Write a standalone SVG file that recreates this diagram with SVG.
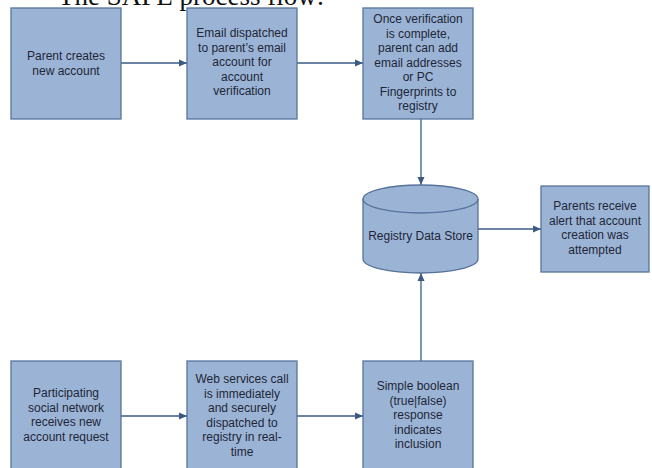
<svg xmlns="http://www.w3.org/2000/svg" width="652" height="468" viewBox="0 0 652 468">
<defs>
<marker id="arr" viewBox="0 0 8 8" refX="8" refY="4" markerWidth="8" markerHeight="8" markerUnits="userSpaceOnUse" orient="auto">
<path d="M0,0.5 L8,4 L0,7.5 Z" fill="#3d5a85"/>
</marker>
<style>
.box{fill:#9bb4d6;stroke:#56739c;stroke-width:1.3}
.t{font-family:"Liberation Sans",Arial,sans-serif;font-size:12px;fill:#1e2636;text-anchor:middle}
.c{stroke:#3d5a85;stroke-width:1.3;fill:none;marker-end:url(#arr)}
.title{font-family:"Liberation Serif","Times New Roman",serif;font-size:27px;fill:#111}
</style>
</defs>
<rect width="652" height="468" fill="#fff"/>
<text class="title" x="58" y="5">The SAFE process flow:</text>

<g id="connectors">
<line class="c" x1="121" y1="63" x2="187" y2="63"/>
<line class="c" x1="297" y1="63" x2="363" y2="63"/>
<line class="c" x1="421" y1="119" x2="421" y2="185"/>
<line class="c" x1="478" y1="229" x2="541" y2="229"/>
<line class="c" x1="121" y1="416" x2="187" y2="416"/>
<line class="c" x1="297" y1="416" x2="363" y2="416"/>
<line class="c" x1="421" y1="361" x2="421" y2="273"/>
</g>

<g id="n1">
<rect class="box" x="11" y="8" width="110" height="111"/>
<text class="t" x="66" y="60">Parent creates</text>
<text class="t" x="66" y="74.5">new account</text>
</g>

<g id="n2">
<rect class="box" x="187" y="8" width="110" height="111"/>
<text class="t" x="242" y="37">Email dispatched</text>
<text class="t" x="242" y="51.5">to parent’s email</text>
<text class="t" x="242" y="66">account for</text>
<text class="t" x="242" y="80.5">account</text>
<text class="t" x="242" y="95">verification</text>
</g>

<g id="n3">
<rect class="box" x="363" y="8" width="110" height="111"/>
<text class="t" x="418" y="23">Once verification</text>
<text class="t" x="418" y="37.5">is complete,</text>
<text class="t" x="418" y="52">parent can add</text>
<text class="t" x="418" y="66.5">email addresses</text>
<text class="t" x="418" y="81">or PC</text>
<text class="t" x="418" y="95.5">Fingerprints to</text>
<text class="t" x="418" y="110">registry</text>
</g>

<g id="store">
<path class="box" d="M363,199 L363,259 A57.5,14 0 0 0 478,259 L478,199 A57.5,14 0 0 0 363,199 Z"/>
<path d="M363,199 A57.5,14 0 0 0 478,199" fill="none" stroke="#56739c" stroke-width="1.3"/>
<text class="t" x="420.5" y="240">Registry Data Store</text>
</g>

<g id="n4">
<rect class="box" x="541" y="186" width="108" height="86"/>
<text class="t" x="595" y="210">Parents receive</text>
<text class="t" x="595" y="224.5">alert that account</text>
<text class="t" x="595" y="239">creation was</text>
<text class="t" x="595" y="253.5">attempted</text>
</g>

<g id="n5">
<rect class="box" x="11" y="361" width="110" height="112"/>
<text class="t" x="66" y="397">Participating</text>
<text class="t" x="66" y="411.5">social network</text>
<text class="t" x="66" y="426">receives new</text>
<text class="t" x="66" y="440.5">account request</text>
</g>

<g id="n6">
<rect class="box" x="187" y="361" width="110" height="112"/>
<text class="t" x="242" y="383">Web services call</text>
<text class="t" x="242" y="397.5">is immediately</text>
<text class="t" x="242" y="412">and securely</text>
<text class="t" x="242" y="426.5">dispatched to</text>
<text class="t" x="242" y="441">registry in real-</text>
<text class="t" x="242" y="455.5">time</text>
</g>

<g id="n7">
<rect class="box" x="363" y="361" width="110" height="112"/>
<text class="t" x="418" y="390">Simple boolean</text>
<text class="t" x="418" y="404.5">(true|false)</text>
<text class="t" x="418" y="419">response</text>
<text class="t" x="418" y="433.5">indicates</text>
<text class="t" x="418" y="448">inclusion</text>
</g>
</svg>
